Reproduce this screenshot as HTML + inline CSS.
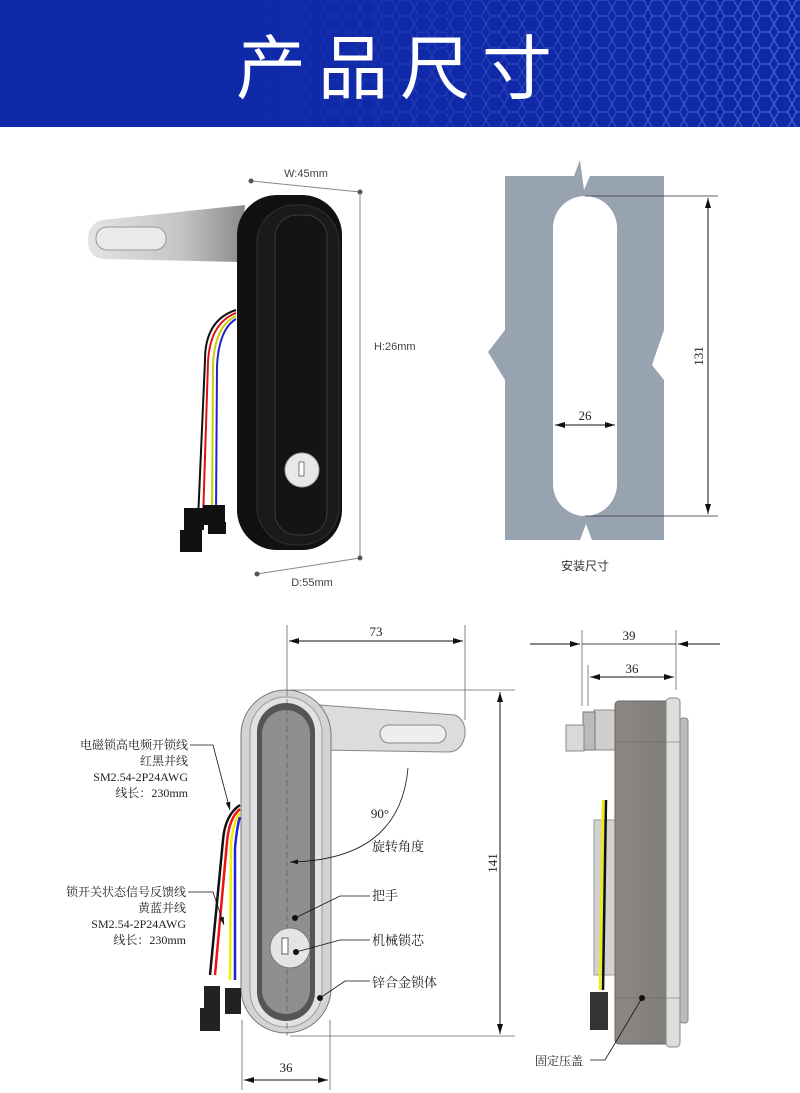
<!DOCTYPE html>
<html><head><meta charset="utf-8"><style>
html,body{margin:0;padding:0;background:#fff;width:800px;height:1093px;overflow:hidden}
svg{display:block}
text{font-family:"Liberation Serif","Noto Serif CJK SC","Noto Sans CJK SC",serif;fill:#222}
.s{font-family:"Liberation Sans","Noto Sans CJK SC",sans-serif}
</style></head><body>
<svg width="800" height="1093" viewBox="0 0 800 1093" xmlns="http://www.w3.org/2000/svg">
<defs>
<pattern id="hex" width="18" height="16" patternUnits="userSpaceOnUse">
<path d="M4.5 0 L13.5 0 L18 8 L13.5 16 L4.5 16 L0 8 Z" fill="none" stroke="#5b74d0" stroke-width="1.2"/>
</pattern>
<linearGradient id="fade" x1="0" x2="1"><stop offset="0.3" stop-color="#fff" stop-opacity="0"/><stop offset="1" stop-color="#fff" stop-opacity="1"/></linearGradient>
<mask id="m"><rect x="0" y="0" width="800" height="127" fill="url(#fade)"/></mask>
<linearGradient id="arm" x1="0" x2="1"><stop offset="0" stop-color="#e4e4e4"/><stop offset="0.6" stop-color="#c4c4c4"/><stop offset="1" stop-color="#8a8a8a"/></linearGradient>
<linearGradient id="side" x1="0" x2="1"><stop offset="0" stop-color="#8d8884"/><stop offset="1" stop-color="#7e7a76"/></linearGradient>
<marker id="a" markerWidth="10" markerHeight="6" refX="10" refY="3" orient="auto"><path d="M0 0 L10 3 L0 6Z" fill="#111"/></marker>
<marker id="b" markerWidth="10" markerHeight="6" refX="0" refY="3" orient="auto"><path d="M10 0 L0 3 L10 6Z" fill="#111"/></marker>
</defs>
<!-- banner -->
<rect x="0" y="0" width="800" height="127" fill="#0f29a9"/>
<rect x="220" y="0" width="580" height="127" fill="url(#hex)" mask="url(#m)" opacity="0.8"/>
<text x="400" y="93" text-anchor="middle" font-size="70" class="s" style="fill:#fff;font-family:'Noto Sans CJK SC',sans-serif;letter-spacing:12px">产品尺寸</text>

<!-- top left lock -->
<line x1="251" y1="181" x2="360" y2="192" stroke="#888"/>
<line x1="360" y1="192" x2="360" y2="558" stroke="#888"/>
<line x1="360" y1="558" x2="257" y2="574" stroke="#888"/>
<circle cx="251" cy="181" r="2.5" fill="#555"/><circle cx="360" cy="192" r="2.5" fill="#555"/><circle cx="360" cy="558" r="2.5" fill="#555"/><circle cx="257" cy="574" r="2.5" fill="#555"/>
<text x="306" y="177" text-anchor="middle" font-size="11" class="s" style="fill:#444">W:45mm</text>
<text x="374" y="350" font-size="11" class="s" style="fill:#444">H:26mm</text>
<text x="312" y="586" text-anchor="middle" font-size="11" class="s" style="fill:#444">D:55mm</text>
<path d="M102 220 Q88 224 88 240 Q88 258 104 259 L240 262 L245 205 Z" fill="url(#arm)"/>
<rect x="96" y="227" width="70" height="23" rx="11" fill="#eaeaea" stroke="#999"/>
<rect x="237" y="195" width="105" height="355" rx="40" fill="#111"/>
<rect x="257" y="205" width="82" height="340" rx="38" fill="#1a1a1a" stroke="#333"/>
<rect x="275" y="215" width="52" height="320" rx="22" fill="#141414" stroke="#3a3a3a"/>
<circle cx="302" cy="470" r="17" fill="#e8e8e8" stroke="#aaa"/>
<rect x="299" y="462" width="5" height="14" fill="#fff" stroke="#777"/>
<path d="M236 310 Q205 320 205 360 L198 520" fill="none" stroke="#111" stroke-width="2"/>
<path d="M236 313 Q210 323 208 362 L203 520" fill="none" stroke="#d11" stroke-width="2"/>
<path d="M236 316 Q215 326 213 364 L212 515" fill="none" stroke="#cc0" stroke-width="2"/>
<path d="M236 319 Q219 329 217 366 L216 515" fill="none" stroke="#22c" stroke-width="2"/>
<rect x="184" y="508" width="20" height="22" fill="#111"/><rect x="180" y="530" width="22" height="22" fill="#111"/>
<rect x="203" y="505" width="22" height="20" fill="#111"/><rect x="208" y="522" width="18" height="12" fill="#111"/>

<!-- top right plate -->
<path d="M505 176 L574 176 L580 160 L584 190 L590 176 L598 176 L664 176 L664 330 L652 365 L664 380 L664 540 L592 540 L586 524 L580 540 L505 540 L505 380 L488 352 L505 330 Z" fill="#97a3b0"/>
<rect x="553" y="196" width="64" height="320" rx="32" fill="#fff"/>
<line x1="585" y1="196" x2="718" y2="196" stroke="#333" stroke-width="0.8"/>
<line x1="585" y1="516" x2="718" y2="516" stroke="#333" stroke-width="0.8"/>
<line x1="708" y1="198" x2="708" y2="514" stroke="#111" marker-start="url(#b)" marker-end="url(#a)"/>
<text x="0" y="0" font-size="13" transform="translate(703 356) rotate(-90)" text-anchor="middle">131</text>
<line x1="555" y1="425" x2="615" y2="425" stroke="#111" marker-start="url(#b)" marker-end="url(#a)"/>
<text x="585" y="420" text-anchor="middle" font-size="13">26</text>
<text x="585" y="570" text-anchor="middle" font-size="12" class="s" style="fill:#333">安装尺寸</text>

<!-- bottom front view -->
<line x1="287" y1="625" x2="287" y2="690" stroke="#666" stroke-width="0.8"/>
<line x1="465" y1="625" x2="465" y2="720" stroke="#666" stroke-width="0.8"/>
<line x1="289" y1="641" x2="463" y2="641" stroke="#111" marker-start="url(#b)" marker-end="url(#a)"/>
<text x="376" y="636" text-anchor="middle" font-size="13">73</text>
<line x1="290" y1="690" x2="515" y2="690" stroke="#666" stroke-width="0.8"/>
<line x1="290" y1="1036" x2="515" y2="1036" stroke="#666" stroke-width="0.8"/>
<line x1="500" y1="692" x2="500" y2="1034" stroke="#111" marker-start="url(#b)" marker-end="url(#a)"/>
<text x="0" y="0" font-size="13" transform="translate(497 863) rotate(-90)" text-anchor="middle">141</text>
<line x1="242" y1="1020" x2="242" y2="1090" stroke="#666" stroke-width="0.8"/>
<line x1="330" y1="1020" x2="330" y2="1090" stroke="#666" stroke-width="0.8"/>
<line x1="244" y1="1080" x2="328" y2="1080" stroke="#111" marker-start="url(#b)" marker-end="url(#a)"/>
<text x="286" y="1072" text-anchor="middle" font-size="13">36</text>
<path d="M320 705 L455 715 Q466 720 465 735 Q462 752 448 752 L320 750Z" fill="#dcdcdc" stroke="#888"/>
<rect x="380" y="725" width="66" height="18" rx="9" fill="#eee" stroke="#888"/>
<rect x="241" y="690" width="90" height="343" rx="45" fill="#d3d3d3" stroke="#777"/>
<rect x="250" y="697" width="72" height="330" rx="36" fill="#e2e2e2" stroke="#999"/>
<rect x="257" y="703" width="58" height="318" rx="29" fill="#555"/>
<rect x="262" y="710" width="48" height="304" rx="24" fill="#8f8f8f"/>
<line x1="287" y1="690" x2="287" y2="1036" stroke="#555" stroke-width="0.6" stroke-dasharray="6 3"/>
<circle cx="290" cy="948" r="20" fill="#e4e4e4" stroke="#777"/>
<rect x="282" y="938" width="6" height="16" fill="#fff" stroke="#666"/>
<path d="M240 805 Q225 815 223 840 L210 975" fill="none" stroke="#111" stroke-width="2.5"/>
<path d="M240 809 Q229 818 227 842 L215 975" fill="none" stroke="#e11" stroke-width="2.5"/>
<path d="M240 813 Q233 822 231 845 L230 980" fill="none" stroke="#ee0" stroke-width="2.5"/>
<path d="M240 817 Q237 826 235 848 L235 980" fill="none" stroke="#22d" stroke-width="2.5"/>
<rect x="204" y="986" width="16" height="22" fill="#222"/><rect x="200" y="1008" width="20" height="23" fill="#222"/>
<rect x="225" y="988" width="16" height="26" fill="#222"/>
<g font-size="12" text-anchor="end">
<text x="188" y="749">电磁锁高电频开锁线</text>
<text x="188" y="765">红黑并线</text>
<text x="188" y="781">SM2.54-2P24AWG</text>
<text x="188" y="797">线长：230mm</text>
<text x="186" y="896">锁开关状态信号反馈线</text>
<text x="186" y="912">黄蓝并线</text>
<text x="186" y="928">SM2.54-2P24AWG</text>
<text x="186" y="944">线长：230mm</text>
</g>
<polyline points="190,745 213,745 230,810" fill="none" stroke="#111" stroke-width="0.8" marker-end="url(#a)"/>
<polyline points="188,892 213,892 224,925" fill="none" stroke="#111" stroke-width="0.8" marker-end="url(#a)"/>
<text x="380" y="818" text-anchor="middle" font-size="13">90°</text>
<path d="M408 768 Q400 860 290 862" fill="none" stroke="#111" stroke-width="0.8" marker-end="url(#a)"/>
<g font-size="13">
<text x="372" y="851">旋转角度</text>
<text x="372" y="900">把手</text>
<text x="372" y="945">机械锁芯</text>
<text x="372" y="987">锌合金锁体</text>
</g>
<polyline points="370,896 340,896 295,918" fill="none" stroke="#111" stroke-width="0.8"/><circle cx="295" cy="918" r="3" fill="#111"/>
<polyline points="370,940 340,940 296,952" fill="none" stroke="#111" stroke-width="0.8"/><circle cx="296" cy="952" r="3" fill="#111"/>
<polyline points="370,981 345,981 320,998" fill="none" stroke="#111" stroke-width="0.8"/><circle cx="320" cy="998" r="3" fill="#111"/>

<!-- side view -->
<line x1="582" y1="630" x2="582" y2="706" stroke="#666" stroke-width="0.8"/>
<line x1="588" y1="665" x2="588" y2="706" stroke="#666" stroke-width="0.8"/>
<line x1="676" y1="630" x2="676" y2="690" stroke="#666" stroke-width="0.8"/>
<line x1="530" y1="644" x2="580" y2="644" stroke="#111" marker-end="url(#a)"/>
<line x1="720" y1="644" x2="678" y2="644" stroke="#111" marker-end="url(#a)"/>
<line x1="582" y1="644" x2="676" y2="644" stroke="#111" stroke-width="0.8"/>
<text x="629" y="640" text-anchor="middle" font-size="13">39</text>
<line x1="590" y1="677" x2="674" y2="677" stroke="#111" marker-start="url(#b)" marker-end="url(#a)"/>
<text x="632" y="673" text-anchor="middle" font-size="13">36</text>
<rect x="594" y="710" width="22" height="40" fill="#cfcfcf" stroke="#888"/>
<rect x="583" y="712" width="12" height="38" fill="#bbb" stroke="#777"/>
<rect x="566" y="725" width="18" height="26" fill="#d9d9d9" stroke="#888"/>
<rect x="594" y="820" width="22" height="155" fill="#d2d2d2" stroke="#999"/>
<path d="M603 800 L600 990" stroke="#ee0" stroke-width="2.5"/>
<path d="M606 800 L603 990" stroke="#111" stroke-width="2.5"/>
<rect x="590" y="992" width="18" height="38" fill="#333"/>
<rect x="615" y="701" width="62" height="343" rx="4" fill="url(#side)" stroke="#666"/>
<rect x="666" y="698" width="14" height="349" rx="4" fill="#ddd" stroke="#888"/>
<rect x="680" y="718" width="8" height="305" rx="3" fill="#bbb" stroke="#888"/>
<line x1="615" y1="742" x2="680" y2="742" stroke="#666" stroke-width="0.6"/>
<line x1="615" y1="998" x2="680" y2="998" stroke="#666" stroke-width="0.6"/>
<circle cx="642" cy="998" r="3" fill="#111"/>
<polyline points="590,1060 605,1060 642,998" fill="none" stroke="#111" stroke-width="0.8"/>
<text x="535" y="1065" font-size="12">固定压盖</text>
</svg>
</body></html>
